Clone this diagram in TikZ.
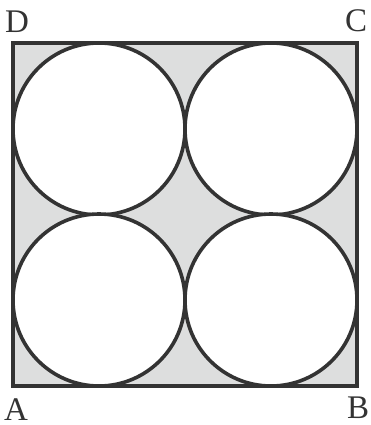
\documentclass[tikz,border=0pt]{standalone}
\usepackage{fontspec}
\setmainfont{Liberation Serif}
\definecolor{shade}{HTML}{DDDEDE}
\definecolor{ink}{HTML}{333333}
\tikzset{
  edge/.style={draw=ink, line width=3.6pt},
  lbl/.style={inner sep=0pt, text=ink, font=\fontsize{33}{33}\selectfont},
}
\begin{document}
\begin{tikzpicture}[x=1pt,y=-1pt]
\useasboundingbox (0,0) rectangle (370,425);
\coordinate (A) at (13,386);
\coordinate (B) at (357,386);
\coordinate (C) at (357,43);
\coordinate (D) at (13,43);
\path[fill=shade] (A) -- (B) -- (C) -- (D) -- cycle;
\foreach \cx/\cy in {99/129, 271/129, 99/300, 271/300}
  \path[fill=white, edge] (\cx,\cy) circle[radius=86];
\draw[edge, line join=miter] (A) -- (B) -- (C) -- (D) -- cycle;
\node[lbl] (lA) at (16,410) {A};
\node[lbl] (lB) at (358,408) {B};
\node[lbl] (lC) at (356,21) {C};
\node[lbl] (lD) at (17,22) {D};
\end{tikzpicture}
\end{document}
